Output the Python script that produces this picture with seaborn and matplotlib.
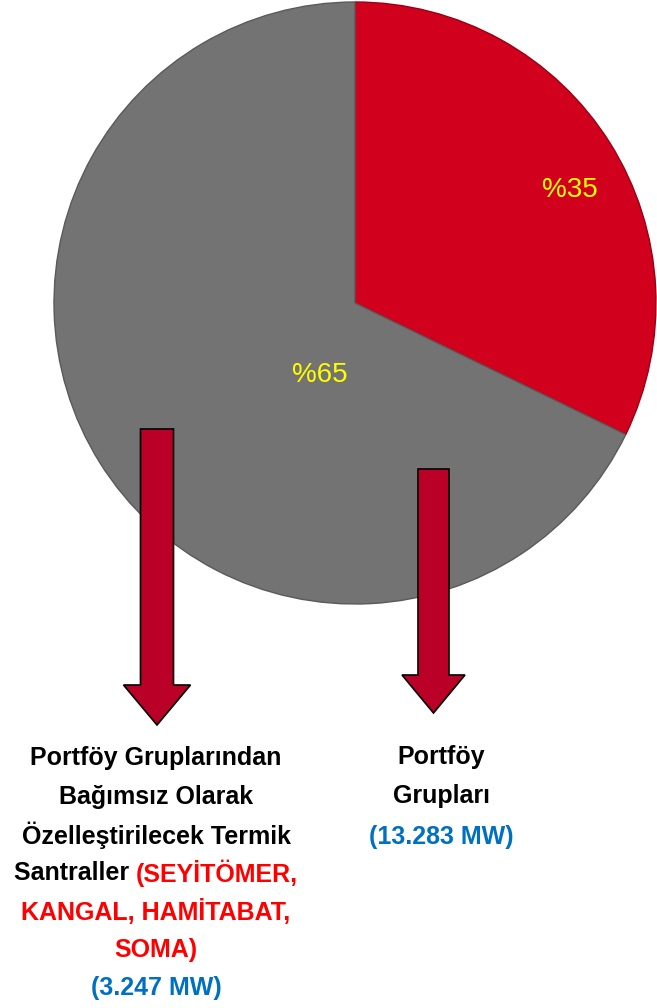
import matplotlib
matplotlib.use("Agg")
import matplotlib.pyplot as plt
import matplotlib.font_manager as fm
from matplotlib.patches import FancyArrow
import seaborn as sns

# ---- data ----
categories = ["Portföy Grupları", "Bağımsız Termik Santraller"]
shares = [32.2, 67.8]            # slice sizes as drawn
pct_labels = ["%35", "%65"]
slice_colors = ["#D1001C", "#737373"]

left_lines = [
    [("Portföy Gruplarından", "black")],
    [("Bağımsız Olarak", "black")],
    [("Özelleştirilecek Termik", "black")],
    [("Santraller ", "black"), ("(SEYİTÖMER,", "#FF0000")],
    [("KANGAL, HAMİTABAT,", "#FF0000")],
    [("SOMA)", "#FF0000")],
    [("(3.247 MW)", "#0070C0")],
]
right_lines = [
    [("Portföy", "black")],
    [("Grupları", "black")],
    [("(13.283 MW)", "#0070C0")],
]

sns.set_theme(style="white")
names = {f.name for f in fm.fontManager.ttflist}
if "Liberation Sans Narrow" in names:
    tfam, tsize = ["Liberation Sans Narrow", "DejaVu Sans"], 22
else:
    tfam, tsize = ["Liberation Sans", "DejaVu Sans"], 18
plt.rcParams["font.family"] = ["Liberation Sans", "DejaVu Sans"]

W, H = 657, 1008
fig = plt.figure(figsize=(W / 100, H / 100), dpi=100)
ax = fig.add_axes([0, 0, 1, 1])

wedges, _ = ax.pie(shares, colors=slice_colors, startangle=90, counterclock=False,
                   center=(355, H - 303), radius=301, frame=True,
                   wedgeprops=dict(edgecolor="#5a5a5a", linewidth=1.0))
wedges[0].set_edgecolor("#9a0015")
ax.set_xlim(0, W)
ax.set_ylim(0, H)
ax.set_aspect("equal")
ax.axis("off")

# percentage labels
ax.text(570, H - 190, pct_labels[0], color="#FFFF00", fontsize=20,
        ha="center", va="center")
ax.text(320, H - 375, pct_labels[1], color="#FFFF00", fontsize=20,
        ha="center", va="center")

# arrows
arrow_kw = dict(length_includes_head=True, fc="#BA0027", ec="black", lw=1.2, zorder=5)
ax.add_patch(FancyArrow(157, H - 429, 0, -(725 - 429), width=33, head_width=67,
                        head_length=40, **arrow_kw))
ax.add_patch(FancyArrow(433.5, H - 469, 0, -(713 - 469), width=31, head_width=63,
                        head_length=38, **arrow_kw))

fig.canvas.draw()
renderer = fig.canvas.get_renderer()
inv = ax.transData.inverted()


def draw_line(parts, cx, cy):
    texts = []
    for s, c in parts:
        t = ax.text(0, cy, s, color=c, fontsize=tsize, fontweight="bold",
                    family=tfam, ha="left", va="center")
        texts.append(t)
    widths = []
    for t in texts:
        bb = t.get_window_extent(renderer)
        widths.append(bb.width)
    total = sum(widths)
    x0 = cx - total / 2
    for t, w in zip(texts, widths):
        t.set_x(x0)
        x0 += w


ys_left = [758, 797, 835, 873, 912, 950, 988]
for parts, y in zip(left_lines, ys_left):
    draw_line(parts, 156, H - y)
ys_right = [757, 796, 837]
for parts, y in zip(right_lines, ys_right):
    draw_line(parts, 441, H - y)

fig.savefig("out.png", dpi=100, facecolor="white")
